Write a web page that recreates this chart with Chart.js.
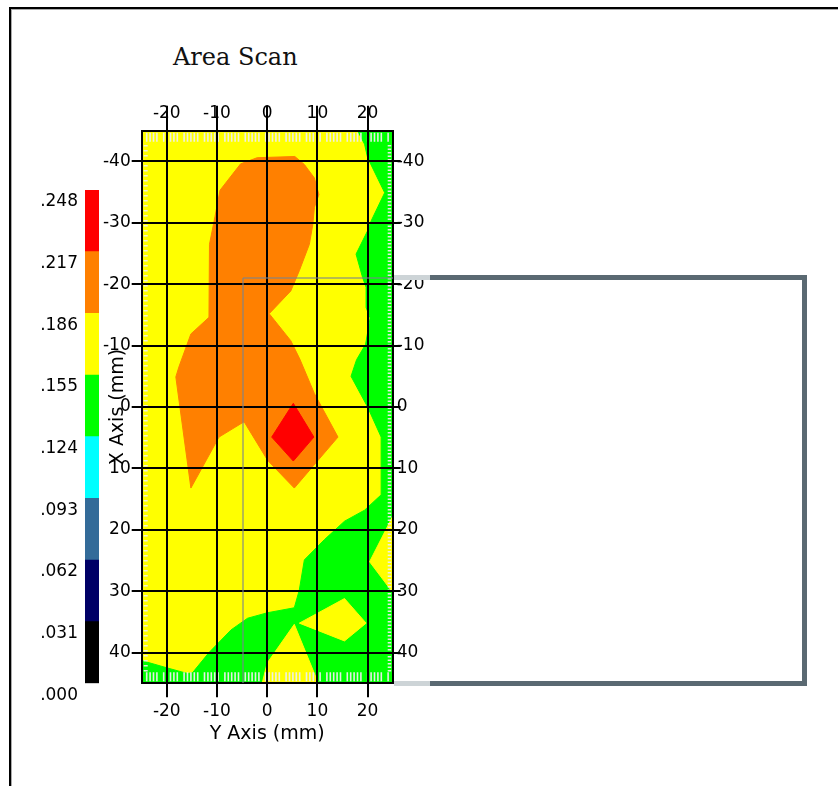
<!DOCTYPE html>
<html>
<head>
<meta charset="utf-8">
<script src="https://cdn.jsdelivr.net/npm/chart.js@4.4.1/dist/chart.umd.min.js"></script>
<style>
  html, body { margin: 0; padding: 0; background: #fff; }
  body { width: 838px; height: 786px; position: relative; overflow: hidden; }
  canvas { position: absolute; left: 0; top: 0; }
  .frame { position: absolute; left: 9px; top: 7px; width: 840px; height: 790px;
           border-top: 2px solid #000; border-left: 2px solid #000; box-shadow: inset 1px 1px 0 #aaa; }
  #title { position: absolute; left: 173px; top: 45px; font: 24px/24px "DejaVu Serif"; color: #111; }
  .sel { position: absolute; }
</style>
</head>
<body>
<div class="frame"></div>
<div id="title">Area Scan</div>
<canvas id="scale" width="838" height="786"></canvas>
<canvas id="scan" width="838" height="786"></canvas>
<div class="sel" style="left:243px;top:276.5px;width:150px;height:2px;background:rgba(120,132,142,0.55)"></div>
<div class="sel" style="left:242px;top:278px;width:2px;height:405px;background:rgba(120,132,142,0.55)"></div>
<div class="sel" style="left:394px;top:275px;width:36px;height:5px;background:#cdd4d7"></div>
<div class="sel" style="left:394px;top:681px;width:36px;height:5px;background:#cdd4d7"></div>
<div class="sel" style="left:430px;top:275px;width:377px;height:411px;box-sizing:border-box;border:5px solid #5a6972;border-left:none"></div>
<script>
// axes (mm)
const horizTicks = [-20, -10, 0, 10, 20];
const vertTicks = [-40, -30, -20, -10, 0, 10, 20, 30, 40];
const horizRange = [-25, 25];
const vertRange = [-45, 45];

// colour scale
const levels = [0, 0.031, 0.062, 0.093, 0.124, 0.155, 0.186, 0.217, 0.248];
const levelLabels = ['.000', '.031', '.062', '.093', '.124', '.155', '.186', '.217', '.248'];
const levelColors = ['#000000', '#000066', '#336b99', '#00ffff', '#00ff00', '#ffff00', '#ff8000', '#ff0000'];

// contour bands, [y axis mm, x axis mm] outlines
const band186Base = [[-25, -45], [25, -45], [25, 45], [-25, 45]];
const band155 = [[18, -45], [25, -45], [25, 45], [-25, 45], [-25, 41.3], [-19.9, 42.5], [-15.9, 43.4],
  [-14.9, 43.3], [-11.6, 40], [-7.2, 36.3], [-3.9, 34.4], [0.1, 33.5], [5.4, 32.7], [6.4, 29.8],
  [7.4, 24.9], [11.4, 21.6], [15.4, 18.6], [19.4, 16.8], [22.7, 14.3], [22.7, 4.9], [20, 0],
  [16.7, -5], [17.8, -7.7], [19.6, -10.2], [20.5, -14.5], [19.7, -16.2], [19.7, -19.5], [19, -21.1],
  [17.7, -24.9], [20, -28.7], [20.7, -30.3], [23.4, -34.9], [20, -40.6], [19.4, -42.8]];
const band186Edge = [[25, 17.8], [20.4, 25.2], [25, 30.2]];
const band186Diamond = [[6.4, 35.2], [15.4, 31.2], [19.7, 35.2], [15.4, 38.1]];
const band186Wedge = [[5.4, 35.4], [10.2, 45], [-1, 45], [0, 41.7]];
const band217 = [[-2, -40.6], [5.5, -40.8], [7.4, -39.5], [9.4, -37.3], [10.3, -34.6], [9.4, -32.5],
  [9.1, -29.8], [8.4, -26.5], [6.4, -22.2], [4.7, -18.9], [0.4, -15.2], [4.7, -10.8], [6.5, -7.8],
  [9.4, -2.2], [14.1, 4.9], [5.4, 13.2], [0.1, 8.7], [-4.6, 2.4], [-9.6, 4.9], [-15.2, 13.2],
  [-18.2, -4.9], [-17.6, -6.5], [-15.2, -11.9], [-11.6, -14.6], [-11.5, -26.5], [-10.4, -31],
  [-9.4, -35.3], [-5.3, -39.6]];
const band248 = [[5.2, -0.6], [9.3, 4.9], [5.2, 8.8], [0.9, 4.9]];

const axisFont = { family: 'DejaVu Sans', size: 17 };
const titleFont = { family: 'DejaVu Sans', size: 19 };

function zone (poly, color) {
    const pts = poly.concat([poly[0]]).map(p => ({ x: p[0], y: p[1] }));
    return { data: pts, backgroundColor: color, borderColor: color, borderWidth: 1,
             fill: 'shape', pointRadius: 0, tension: 0 };
}
const setTicks = vals => scale => { scale.ticks = vals.map(v => ({ value: v })); };

// white scan marks along the inner edges of the plot
const edgeMarks = {
    id: 'edgeMarks',
    afterDatasetsDraw (chart) {
        const { ctx, chartArea: a } = chart;
        ctx.save();
        ctx.strokeStyle = 'rgba(238,238,238,0.95)';
        ctx.lineWidth = 1.6;
        ctx.beginPath();
        let i = 0;
        for (let x = a.left + 5; x < a.right - 3; x += 3.4, ++i) {
            if (i % 6 == 4) continue;
            ctx.moveTo(x, a.top + 2); ctx.lineTo(x, a.top + 11);
            ctx.moveTo(x, a.bottom - 11); ctx.lineTo(x, a.bottom - 2);
        }
        for (let y = a.top + 15; y < a.bottom - 12; y += 5) {
            ctx.moveTo(a.left + 2, y); ctx.lineTo(a.left + 6, y);
        }
        for (let y = a.top + 15; y < a.bottom - 12; y += 3.5) {
            ctx.moveTo(a.right - 5, y); ctx.lineTo(a.right - 1.5, y);
        }
        ctx.stroke();
        ctx.restore();
    }
};

const gridOn = { color: '#000', lineWidth: 2, z: 1 };
const borderOn = { color: '#000', width: 2, z: 1 };

new Chart(document.getElementById('scan'), {
    type: 'line',
    data: {
        datasets: [
            zone(band248, levelColors[7]),
            zone(band217, levelColors[6]),
            zone(band186Edge, levelColors[5]),
            zone(band186Diamond, levelColors[5]),
            zone(band186Wedge, levelColors[5]),
            zone(band155, levelColors[4]),
            zone(band186Base, levelColors[5])
        ]
    },
    options: {
        responsive: false,
        animation: false,
        events: [],
        layout: { padding: { left: 81.7, right: 395.3, top: 90.7, bottom: 32.7 } },
        plugins: { legend: { display: false }, tooltip: { enabled: false } },
        scales: {
            x: {
                type: 'linear', position: 'bottom', min: horizRange[0], max: horizRange[1],
                afterBuildTicks: setTicks(horizTicks),
                grid: { ...gridOn, tickLength: 14 },
                border: borderOn,
                ticks: { color: '#000', font: axisFont, padding: 4.5, maxRotation: 0, z: 1 },
                title: { display: true, text: 'Y Axis (mm)', color: '#000', font: titleFont, padding: { top: 0, bottom: 8 } },
                afterFit: s => { s.height = 70; }
            },
            xTop: {
                type: 'linear', position: 'top', min: horizRange[0], max: horizRange[1],
                afterBuildTicks: setTicks(horizTicks),
                grid: { ...gridOn, tickLength: 25, drawOnChartArea: false },
                border: borderOn,
                ticks: { color: '#000', font: axisFont, padding: -18, maxRotation: 0, z: 1 },
                afterFit: s => { s.height = 40; }
            },
            y: {
                type: 'linear', position: 'left', reverse: true, min: vertRange[0], max: vertRange[1],
                afterBuildTicks: setTicks(vertTicks),
                grid: { ...gridOn, tickLength: 10 },
                border: borderOn,
                ticks: { color: '#000', font: axisFont, padding: 1, z: 1 },
                title: { display: true, text: 'X Axis (mm)', color: '#000', font: titleFont, padding: { top: 25, bottom: 0 } },
                afterFit: s => { s.width = 60; }
            },
            yRight: {
                type: 'linear', position: 'right', reverse: true, min: vertRange[0], max: vertRange[1],
                afterBuildTicks: setTicks(vertTicks),
                grid: { ...gridOn, tickLength: 8, drawOnChartArea: false },
                border: borderOn,
                ticks: { color: '#000', font: axisFont, padding: -4, z: 1 },
                afterFit: s => { s.width = 50; }
            }
        }
    },
    plugins: [edgeMarks]
});

// colour bar
new Chart(document.getElementById('scale'), {
    type: 'bar',
    data: {
        labels: [''],
        datasets: levelColors.map((c, i) => ({
            data: [[levels[i], levels[i + 1]]],
            backgroundColor: c, borderWidth: 0, grouped: false,
            barPercentage: 1, categoryPercentage: 1
        }))
    },
    options: {
        responsive: false,
        animation: false,
        events: [],
        layout: { padding: { left: 35, right: 739, top: 190, bottom: 102.7 } },
        plugins: { legend: { display: false }, tooltip: { enabled: false } },
        scales: {
            x: { display: false },
            y: {
                min: levels[0], max: levels[levels.length - 1],
                afterBuildTicks: setTicks(levels),
                grid: { display: false, drawTicks: false },
                border: { display: false },
                ticks: { color: '#000', font: axisFont, padding: 7, labelOffset: 12,
                         callback: (v, i) => levelLabels[i] },
                afterFit: s => { s.width = 50; }
            }
        }
    }
});
</script>
</body>
</html>
